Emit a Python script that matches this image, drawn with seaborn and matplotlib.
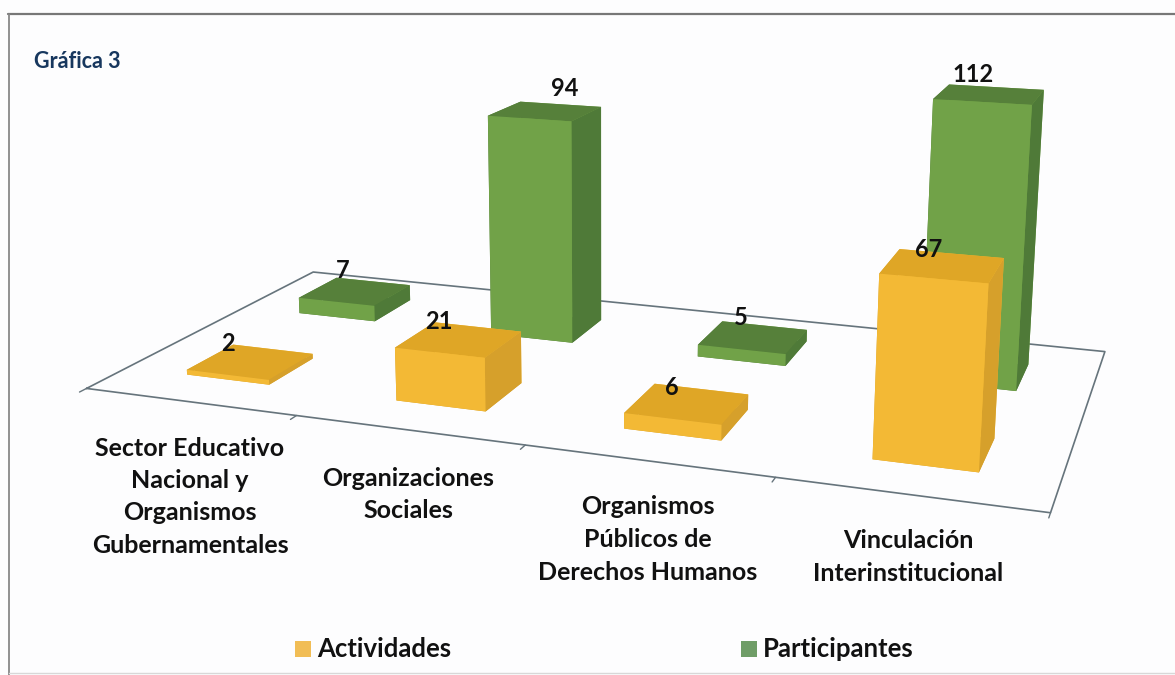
import matplotlib
matplotlib.use('Agg')
import matplotlib.pyplot as plt
from matplotlib.lines import Line2D
from matplotlib.patches import Rectangle
from mpl_toolkits.mplot3d import proj3d
import seaborn as sns

categories = [['Sector Educativo', 'Nacional y', 'Organismos', 'Gubernamentales'],
              ['Organizaciones', 'Sociales'],
              ['Organismos', 'Públicos de', 'Derechos Humanos'],
              ['Vinculación', 'Interinstitucional']]
actividades = [2, 21, 6, 67]
participantes = [7, 94, 5, 112]
series_names = ['Actividades', 'Participantes']

sns.set_theme(style='white')
plt.rcParams['font.family'] = ['Lato', 'DejaVu Sans']

# front, top, side colours of the bars
yellow = ['#F3B935', '#DFA626', '#D6A02B']
green = ['#71A248', '#56803A', '#4F7A38']

W, H = 1175, 675
fig = plt.figure(figsize=(W / 100, H / 100), dpi=100)
fig.patch.set_facecolor('#FDFDFE')

# view fitted against the corners of the reference
ax = fig.add_axes([265.1 / W, 104.8 / H, H / W, 1], projection='3d', computed_zorder=False)
ax.set_facecolor('none')
ax.patch.set_visible(False)
ax.set_xlim(0, 4, view_margin=0)
ax.set_ylim(0, 2, view_margin=0)
ax.set_zlim(0, 120, view_margin=0)
ax.view_init(elev=13.7718, azim=-70.3448, roll=-0.0564)
ax.set_proj_type('persp', focal_length=0.5151)
ax.set_box_aspect((4, 1.9871, 1.3095), zoom=1.5652)
ax.set_axis_off()

# floor outline and ticks
ax.plot([0, 4, 4, 0, 0], [0, 0, 2, 2, 0], [0, 0, 0, 0, 0], color='#66747C', lw=1.2, zorder=1)
for i in range(5):
    ax.plot([i, i], [0, -0.05], [0, 0], color='#66747C', lw=1, zorder=1)

bar_w, bar_d = 0.402, 0.3869
label_off = {0: [(-23, 18), (-20, 18), (-15, 16), (-14, 16)],
             1: [(-12, 21), (19, 23), (-12, 20), (-16, 20)]}
M = ax.get_proj()
for row, (vals, cols) in enumerate([(actividades, yellow), (participantes, green)]):
    front, top, side = cols
    # faces: bottom, top, front, back, left, right
    faces = [side, top, front, front, side, side]
    for i, v in enumerate(vals):
        x0 = i + 0.5 - bar_w / 2
        y0 = row + 0.5 - bar_d / 2
        art = ax.bar3d(x0, y0, 0, bar_w, bar_d, v, color=faces, shade=False,
                       edgecolor='none', linewidth=0, zorder=3 - row)
        art.set_clip_on(False)
        px, py, _ = proj3d.proj_transform(i + 0.5, row + 0.5, v, M)
        ax.annotate(str(v), (px, py), xytext=label_off[row][i], textcoords='offset pixels',
                    ha='center', va='center', fontsize=17, fontweight='bold', color='#111111',
                    annotation_clip=False, zorder=5)
for art in ax.lines:
    art.set_clip_on(False)

# category labels
label_x = [190, 408, 648, 908]
label_y = [448, 478, 507, 541]
for names, lx, ly in zip(categories, label_x, label_y):
    for k, name in enumerate(names):
        fig.text(lx / W, 1 - (ly + k * 32.5) / H, name, ha='center', va='center',
                 fontsize=18, fontweight='bold', color='#111111')

fig.text(34 / W, 1 - 62 / H, 'Gráfica 3', ha='left', va='center', fontsize=15.5,
         fontweight='bold', color='#17375E')

# legend
for name, sx, col in zip(series_names, [295, 741], ['#F1BD55', '#6F9D67']):
    fig.patches.append(Rectangle((sx / W, 1 - 657 / H), 16 / W, 16 / H, transform=fig.transFigure,
                                 facecolor=col, edgecolor='none'))
    fig.text((sx + 22) / W, 1 - 649 / H, name, ha='left', va='center', fontsize=18.5,
             fontweight='bold', color='#111111')

# chart frame: only top, left and a faint bottom edge show in the scan
frame = [([8, W], [14, 14], '#777777', 1.6), ([9, 9], [14, 675], '#888888', 1.3),
         ([9, W], [673, 673], '#D8D8D8', 1.0)]
for xs, ys, col, lw in frame:
    fig.add_artist(Line2D([x / W for x in xs], [1 - y / H for y in ys], color=col, lw=lw))

fig.savefig('out.png', dpi=100, facecolor=fig.get_facecolor())
